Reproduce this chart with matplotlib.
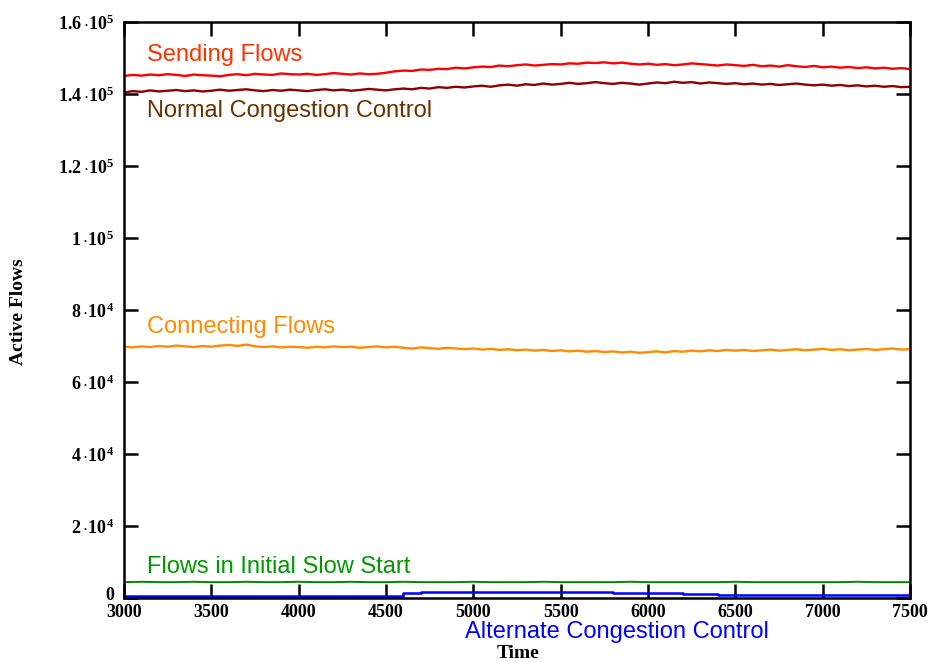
import matplotlib
matplotlib.use("Agg")
import matplotlib.pyplot as plt
import matplotlib.transforms as mtransforms
import numpy as np

plt.rcParams['mathtext.fontset'] = 'custom'
plt.rcParams['mathtext.rm'] = 'Liberation Serif'
plt.rcParams['mathtext.bf'] = 'Liberation Serif:bold'

# time axis, one sample every 50 s for the busy series
t_fine = np.arange(3000, 7501, 50)
# one sample every 100 s for the flat ones
t_coarse = np.arange(3000, 7501, 100)

# values in thousands of flows
sending = [
    145.0, 145.3, 145.1, 145.4, 145.2, 145.5, 145.3, 145.0, 145.4, 145.2,
    145.1, 144.9, 145.3, 145.5, 145.2, 145.6, 145.4, 145.3, 145.7, 145.5,
    145.4, 145.6, 145.3, 145.5, 145.8, 145.6, 145.4, 145.7, 145.5, 145.6,
    145.9, 146.3, 146.5, 146.4, 146.8, 146.7, 147.0, 146.9, 147.3, 147.1,
    147.4, 147.6, 147.5, 147.9, 147.7, 148.0, 148.2, 147.9, 148.1, 148.3,
    148.2, 148.5, 148.4, 148.7, 148.6, 148.8, 148.5, 148.7, 148.4, 148.2,
    148.4, 148.1, 148.3, 148.0, 148.2, 148.5, 148.3, 148.1, 147.9, 148.2,
    148.0, 147.8, 148.1, 147.7, 147.9, 147.6, 148.0, 147.7, 147.5, 147.8,
    147.4, 147.6, 147.3, 147.5, 147.2, 147.4, 147.1, 147.3, 147.0, 147.2,
    146.9,
]
normal_cc = [
    140.4, 140.8, 140.6, 141.0, 140.7, 140.9, 141.1, 140.8, 141.0, 140.7,
    140.9, 141.2, 140.9, 141.1, 141.3, 141.0, 140.8, 141.1, 140.9, 141.2,
    141.0, 140.8, 141.1, 141.3, 141.0, 141.2, 140.9, 141.1, 141.4, 141.2,
    141.0, 141.3, 141.5, 141.3, 141.7, 141.5, 141.9, 141.7, 142.0, 141.8,
    142.1, 142.3, 142.0, 142.4, 142.6, 142.3, 142.7, 142.5, 142.9, 142.6,
    142.8, 143.1, 142.8, 143.0, 143.3, 143.0, 142.8, 143.1, 142.9, 142.6,
    142.9, 143.2, 143.0, 143.4, 143.1, 143.3, 142.9, 143.2, 143.0, 142.8,
    143.0, 142.7, 142.9, 142.6, 142.8, 142.5, 142.7, 142.9, 142.6, 142.4,
    142.6, 142.3, 142.5, 142.2, 142.4, 142.1, 142.3, 142.0, 142.2, 141.9,
    142.0,
]
connecting = [
    69.8, 69.6, 69.9, 69.7, 70.0, 69.8, 70.1, 69.9, 69.7, 70.0,
    69.8, 70.1, 70.3, 70.0, 70.4, 69.9, 69.7, 69.9, 69.6, 69.8,
    69.7, 69.5, 69.8, 69.6, 69.9, 69.7, 69.8, 69.5, 69.7, 69.9,
    69.6, 69.8, 69.5, 69.3, 69.6, 69.4, 69.2, 69.5, 69.3, 69.1,
    69.3, 69.0, 69.2, 68.9, 69.1, 68.8, 69.0, 68.7, 68.9, 68.6,
    68.8, 68.5, 68.7, 68.4, 68.6, 68.3, 68.5, 68.2, 68.4, 68.1,
    68.3, 68.5, 68.2, 68.6, 68.4, 68.7, 68.5, 68.8, 68.6, 68.9,
    68.7, 68.9, 68.6, 68.8, 69.0, 68.7, 68.9, 69.1, 68.8, 69.0,
    69.2, 68.9, 69.1, 68.8, 69.0, 69.2, 68.9, 69.1, 69.3, 69.0,
    69.1,
]
slow_start = [
    4.4, 4.5, 4.4, 4.4, 4.5, 4.4, 4.4, 4.5, 4.4, 4.4,
    4.5, 4.4, 4.4, 4.5, 4.4, 4.4, 4.5, 4.4, 4.4, 4.4,
    4.5, 4.4, 4.4, 4.4, 4.5, 4.4, 4.4, 4.4, 4.4, 4.5,
    4.4, 4.4, 4.4, 4.4, 4.4, 4.5, 4.4, 4.4, 4.4, 4.4,
    4.4, 4.4, 4.5, 4.4, 4.4, 4.4,
]
alternate_cc = [
    0.55, 0.55, 0.55, 0.55, 0.55, 0.55, 0.55, 0.55, 0.55, 0.55,
    0.55, 0.55, 0.55, 0.55, 0.55, 0.6, 1.3, 1.6, 1.6, 1.7,
    1.7, 1.8, 1.8, 1.7, 1.7, 1.6, 1.6, 1.6, 1.5, 1.5,
    1.4, 1.3, 1.2, 1.0, 0.9, 0.8, 0.8, 0.8, 0.8, 0.8,
    0.7, 0.8, 0.8, 0.8, 0.8, 0.8,
]

y_ticks = [0, 20000, 40000, 60000, 80000, 100000, 120000, 140000, 160000]
y_tick_labels = ['0', '2', '4', '6', '8', '1', '1.2', '1.4', '1.6']
y_tick_exps = [None, 4, 4, 4, 4, 5, 5, 5, 5]
x_ticks = [3000, 3500, 4000, 4500, 5000, 5500, 6000, 6500, 7000, 7500]

fig = plt.figure(figsize=(9.32, 6.62), dpi=100)
ax = fig.add_axes([0.133, 0.0967, 0.8434, 0.8701])

k = 1000.0
ax.plot(t_fine, np.array(sending) * k, color='#ff0000', lw=1.7)
ax.plot(t_fine, np.array(normal_cc) * k, color='#8b0000', lw=1.7)
ax.plot(t_fine, np.array(connecting) * k, color='#ff8c00', lw=1.7)
ax.plot(t_coarse, np.array(slow_start) * k, color='#008800', lw=1.4)
ax.plot(t_coarse, np.array(alternate_cc) * k, color='#0000ff', lw=1.8,
        drawstyle='steps-post')

lbl = dict(fontsize=17, family='Liberation Sans', va='center', ha='left')
ax.text(3130, 150800, 'Sending Flows', color='#ff3300', **lbl)
ax.text(3130, 135300, 'Normal Congestion Control', color='#663300', **lbl)
ax.text(3130, 75300, 'Connecting Flows', color='#ff8c00', **lbl)
ax.text(3130, 8600, 'Flows in Initial Slow Start', color='#009900', **lbl)
ax.text(4955, -9400, 'Alternate Congestion Control', color='#0000ff',
        clip_on=False, **lbl)

ax.set_xlim(3000, 7500)
ax.set_ylim(0, 160000)
ax.set_xticks(x_ticks)
ax.set_xticklabels([str(x) for x in x_ticks])
ax.set_yticks(y_ticks)
labels = []
for m, e in zip(y_tick_labels, y_tick_exps):
    if e is None:
        labels.append(m)
    else:
        labels.append(r'$\mathbf{%s\,{\cdot}10^{%d}}$' % (m, e))
ax.set_yticklabels(labels)

for tl in ax.get_xticklabels() + ax.get_yticklabels():
    tl.set_family('Liberation Serif')
    tl.set_fontweight('bold')
    tl.set_fontsize(13)

ax.tick_params(direction='in', length=10, width=1.8, top=True, right=True)
ax.tick_params(axis='y', pad=7)
ax.tick_params(axis='x', pad=4)
for s in ax.spines.values():
    s.set_linewidth(1.8)

# lift the "0" so it sits above the 3000 label
zero = ax.get_yticklabels()[0]
zero.set_transform(zero.get_transform() +
                   mtransforms.ScaledTranslation(0, 3 / 72, fig.dpi_scale_trans))

ax.set_xlabel('Time', family='Liberation Serif', fontweight='bold',
              fontsize=14)
ax.set_ylabel('Active Flows', family='Liberation Serif', fontweight='bold',
              fontsize=14)
ax.xaxis.set_label_coords(0.501, -0.0816)
ax.yaxis.set_label_coords(-0.1234, 0.4965)

fig.savefig('out.png', dpi=100)
